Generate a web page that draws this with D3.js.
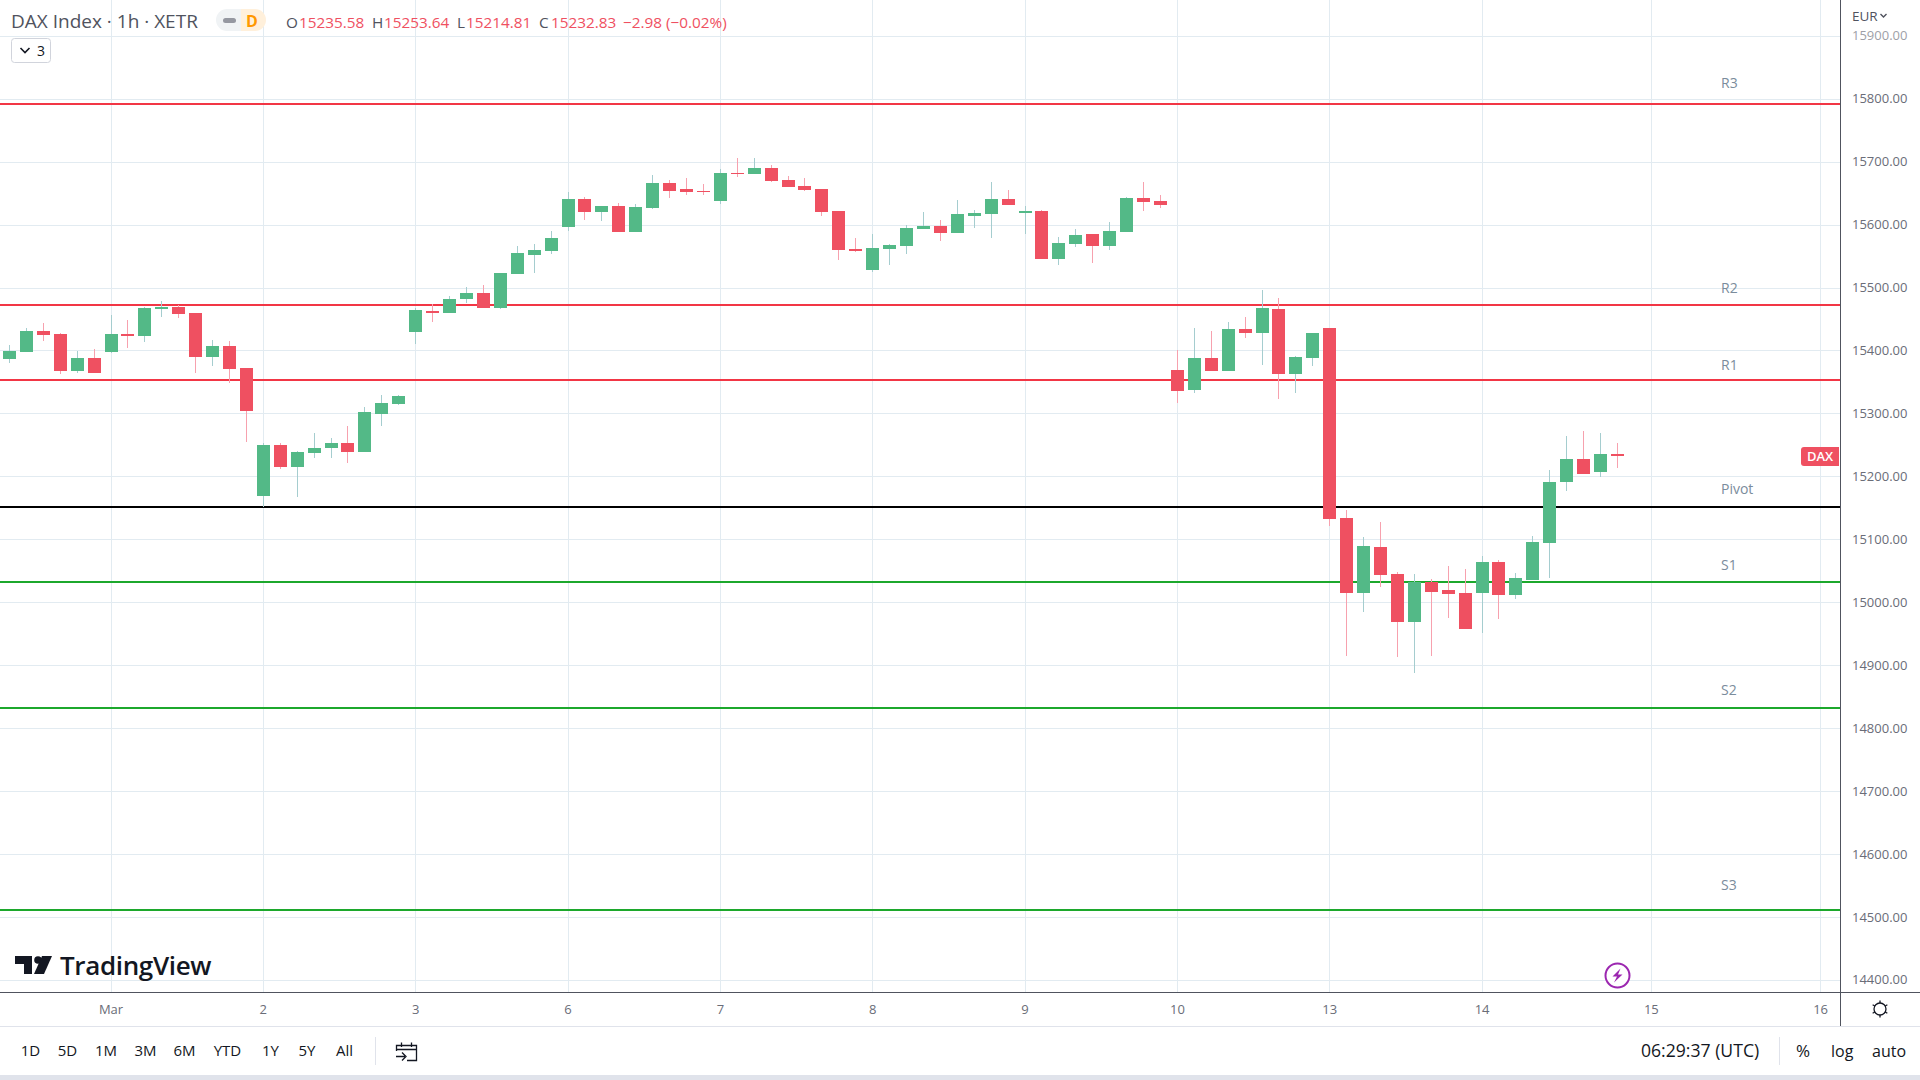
<!DOCTYPE html>
<html>
<head>
<meta charset="utf-8">
<title>DAX Index 1h</title>
<script src="https://cdn.jsdelivr.net/npm/d3@7"></script>
<style>
  html, body { margin: 0; padding: 0; background: #fff; overflow: hidden; }
  svg { display: block; }
  text { font-family: "Open Sans", sans-serif; }
</style>
</head>
<body>
<div class="chart"></div>
<script>
// hourly candles, first bar is 6 bars before the "Mar" tick
var barIndex = d3.range(-6, 90);

var opens = [
  15387, 15398, 15432, 15427, 15368, 15389, 15398, 15427, 15424, 15467,
  15470, 15460, 15390, 15408, 15373, 15170, 15251, 15216, 15238, 15246,
  15254, 15240, 15300, 15316, 15430, 15464, 15460, 15483, 15492, 15468,
  15522, 15552, 15559, 15597, 15641, 15621, 15630, 15589, 15627, 15667,
  15657, 15654, 15638, 15683, 15681, 15691, 15671, 15662, 15657, 15622,
  15562, 15529, 15562, 15567, 15594, 15598, 15587, 15614, 15618, 15641,
  15619, 15622, 15546, 15570, 15586, 15567, 15589, 15643, 15638, 15370,
  15338, 15389, 15368, 15435, 15429, 15467, 15363, 15389, 15436, 15135,
  15015, 15088, 15046, 14969, 15033, 15020, 15015, 15015, 15065, 15012,
  15036, 15095, 15192, 15228, 15208, 15235.58
];
var highs = [
  15410, 15437, 15445, 15429, 15400, 15403, 15457, 15449, 15470, 15479,
  15473, 15460, 15418, 15416, 15373, 15254, 15254, 15241, 15270, 15262,
  15281, 15311, 15330, 15330, 15468, 15475, 15487, 15502, 15505, 15524,
  15567, 15570, 15591, 15653, 15645, 15630, 15635, 15634, 15680, 15672,
  15675, 15665, 15689, 15707, 15707, 15695, 15678, 15675, 15657, 15622,
  15580, 15586, 15570, 15600, 15621, 15608, 15640, 15624, 15669, 15656,
  15630, 15624, 15581, 15594, 15586, 15605, 15645, 15669, 15648, 15402,
  15436, 15432, 15446, 15454, 15497, 15484, 15392, 15429, 15436, 15147,
  15104, 15128, 15049, 15046, 15038, 15058, 15054, 15074, 15068, 15047,
  15106, 15211, 15265, 15273, 15270, 15253.64
];
var lows = [
  15381, 15398, 15416, 15363, 15365, 15365, 15397, 15405, 15414, 15454,
  15452, 15365, 15376, 15349, 15255, 15152, 15212, 15168, 15230, 15230,
  15222, 15240, 15281, 15314, 15411, 15446, 15460, 15476, 15468, 15467,
  15522, 15524, 15554, 15591, 15608, 15607, 15589, 15589, 15626, 15643,
  15648, 15648, 15634, 15676, 15681, 15668, 15660, 15654, 15614, 15544,
  15557, 15525, 15537, 15554, 15594, 15575, 15587, 15595, 15580, 15632,
  15586, 15546, 15537, 15565, 15540, 15560, 15589, 15622, 15627, 15317,
  15333, 15368, 15368, 15421, 15378, 15324, 15333, 15376, 15122, 14915,
  14985, 15025, 14914, 14888, 14915, 14976, 14958, 14952, 14974, 15006,
  15036, 15039, 15178, 15205, 15200, 15214.81
];
var closes = [
  15400, 15432, 15425, 15368, 15389, 15365, 15427, 15424, 15468, 15470,
  15459, 15390, 15408, 15371, 15305, 15251, 15216, 15240, 15246, 15254,
  15240, 15303, 15317, 15328, 15465, 15460, 15483, 15492, 15468, 15524,
  15556, 15560, 15580, 15641, 15621, 15630, 15589, 15629, 15667, 15654,
  15653, 15653, 15683, 15681, 15691, 15670, 15660, 15656, 15621, 15560,
  15559, 15564, 15568, 15595, 15598, 15587, 15618, 15619, 15641, 15632,
  15622, 15546, 15572, 15584, 15567, 15591, 15643, 15637, 15632, 15336,
  15389, 15368, 15435, 15429, 15468, 15363, 15390, 15429, 15133, 15015,
  15090, 15044, 14969, 15033, 15017, 15014, 14958, 15065, 15012, 15039,
  15096, 15192, 15228, 15205, 15236, 15232.83
];

var priceTicks = d3.range(14400, 16000, 100);
var dayTickBars = [0, 9, 18, 27, 36, 45, 54, 63, 72, 81, 91, 101];
var dayLabels = ["Mar", "2", "3", "6", "7", "8", "9", "10", "13", "14", "15", "16"];

// pivot levels drawn by hand on the chart
var levelNames = ["R3", "R2", "R1", "Pivot", "S1", "S2", "S3"];
var levelPrices = [15792, 15473, 15354, 15152, 15033, 14833, 14512];
var levelColors = ["#f23645", "#f23645", "#f23645", "#000000", "#1ca82c", "#1ca82c", "#1ca82c"];
var levelLabelOffsets = [21, 17, 15, 18, 17, 18, 25];

var rangeLabels = ["1D", "5D", "1M", "3M", "6M", "YTD", "1Y", "5Y", "All"];
var rangeCenters = [30.5, 67.5, 106, 145.5, 184.5, 227.5, 270.5, 307, 344.5];

var width = 1920, height = 1080;
var axisX = 1840, axisY = 992;

var xScale = d3.scaleLinear().domain([0, 101]).range([111, 1820.6]);
var yScale = d3.scaleLinear().domain([14400, 15900]).range([980.3, 36.3]);

var svg = d3.select(".chart").append("svg")
  .attr("width", width)
  .attr("height", height);

var GRID = "#e2ebf1", RED = "#ef5061", GREEN = "#53b987";

// grid, snapped to whole pixels
var grid = svg.append("g").attr("stroke", GRID).attr("shape-rendering", "crispEdges");
grid.selectAll(".h")
  .data(priceTicks)
  .enter().append("line")
  .attr("class", "h")
  .attr("x1", 0)
  .attr("x2", axisX)
  .attr("y1", function (d) { return Math.floor(yScale(d)) + 0.5; })
  .attr("y2", function (d) { return Math.floor(yScale(d)) + 0.5; });
grid.selectAll(".v")
  .data(dayTickBars)
  .enter().append("line")
  .attr("class", "v")
  .attr("y1", 0)
  .attr("y2", axisY)
  .attr("x1", function (d) { return Math.floor(xScale(d)) + 0.5; })
  .attr("x2", function (d) { return Math.floor(xScale(d)) + 0.5; });

// level lines
svg.append("g").selectAll("line")
  .data(levelPrices)
  .enter().append("line")
  .attr("x1", 0)
  .attr("x2", axisX)
  .attr("y1", function (d) { return yScale(d); })
  .attr("y2", function (d) { return yScale(d); })
  .attr("stroke", function (d, i) { return levelColors[i]; })
  .attr("stroke-width", 2)
  .attr("shape-rendering", "crispEdges");

svg.append("g").selectAll("text")
  .data(levelNames)
  .enter().append("text")
  .attr("x", 1721)
  .attr("y", function (d, i) { return yScale(levelPrices[i]) - levelLabelOffsets[i] + 5; })
  .attr("font-size", 14)
  .attr("fill", "#7b8c9c")
  .text(function (d) { return d; });

// candles
var candles = svg.append("g").attr("shape-rendering", "crispEdges");
var isUp = function (i) { return closes[i] >= opens[i]; };

candles.selectAll(".wick")
  .data(barIndex)
  .enter().append("rect")
  .attr("class", "wick")
  .attr("x", function (d) { return Math.floor(xScale(d)); })
  .attr("width", 1)
  .attr("y", function (d, i) { return Math.round(yScale(highs[i])); })
  .attr("height", function (d, i) { return Math.round(yScale(lows[i])) - Math.round(yScale(highs[i])); })
  .attr("fill", function (d, i) { return isUp(i) ? "#a5cdcf" : "#f7a1ae"; });

candles.selectAll(".body")
  .data(barIndex)
  .enter().append("rect")
  .attr("class", "body")
  .attr("x", function (d) { return Math.floor(xScale(d)) - 6; })
  .attr("width", 13)
  .attr("y", function (d, i) { return Math.round(yScale(Math.max(opens[i], closes[i]))); })
  .attr("height", function (d, i) {
    return Math.max(1, Math.round(yScale(Math.min(opens[i], closes[i]))) - Math.round(yScale(Math.max(opens[i], closes[i]))));
  })
  .attr("fill", function (d, i) { return isUp(i) ? GREEN : RED; });

// price axis
var priceAxis = svg.append("g")
  .attr("transform", "translate(" + axisX + ",0)")
  .call(d3.axisRight(yScale).offset(0).tickValues(priceTicks).tickSize(0).tickPadding(12)
    .tickFormat(function (d) { return d.toFixed(2); }));
priceAxis.select(".domain").remove();
priceAxis.selectAll("text")
  .attr("font-family", "'Open Sans', sans-serif")
  .attr("font-size", 13)
  .attr("fill", "#6a6d78")
  .attr("opacity", function (d) { return d === 15900 ? 0.65 : 1; });

// time axis
var timeAxis = svg.append("g")
  .attr("transform", "translate(0," + axisY + ")")
  .call(d3.axisBottom(xScale).offset(0).tickValues(dayTickBars).tickSize(0).tickPadding(13)
    .tickFormat(function (d, i) { return dayLabels[i]; }));
timeAxis.select(".domain").remove();
timeAxis.selectAll("text")
  .attr("font-family", "'Open Sans', sans-serif")
  .attr("font-size", 13)
  .attr("fill", "#6a6d78");

// frame of the panes
var frame = svg.append("g").attr("shape-rendering", "crispEdges");
frame.append("rect").attr("x", 1840).attr("y", 0).attr("width", 1).attr("height", 1026).attr("fill", "#50535e");
frame.append("rect").attr("x", 0).attr("y", 992).attr("width", 1920).attr("height", 1).attr("fill", "#50535e");
frame.append("rect").attr("x", 0).attr("y", 1026).attr("width", 1920).attr("height", 1).attr("fill", "#e0e3eb");
frame.append("rect").attr("x", 0).attr("y", 1075).attr("width", 1920).attr("height", 5).attr("fill", "#e0e3eb");
frame.append("rect").attr("x", 375).attr("y", 1037).attr("width", 1).attr("height", 28).attr("fill", "#e0e3eb");
frame.append("rect").attr("x", 1779).attr("y", 1037).attr("width", 1).attr("height", 28).attr("fill", "#e0e3eb");

// last price tag
svg.append("path")
  .attr("d", "M1804 447H1839V466H1804Q1801 466 1801 463V450Q1801 447 1804 447Z")
  .attr("fill", RED);
svg.append("text")
  .attr("x", 1820).attr("y", 461)
  .attr("text-anchor", "middle")
  .attr("font-size", 13)
  .attr("font-weight", 600)
  .attr("fill", "#fff")
  .text("DAX");

// legend
svg.append("text")
  .attr("x", 11).attr("y", 28)
  .attr("font-size", 19)
  .attr("fill", "#50535e")
  .text("DAX Index \u00b7 1h \u00b7 XETR");

svg.append("path")
  .attr("d", "M241 9H227A11 11 0 0 0 227 31H241Z")
  .attr("fill", "#f0f3f5");
svg.append("path")
  .attr("d", "M241 9H255A11 11 0 0 1 255 31H241Z")
  .attr("fill", "#fff0db");
svg.append("rect")
  .attr("x", 223).attr("y", 18).attr("width", 13).attr("height", 5).attr("rx", 2.5)
  .attr("fill", "#9598a1");
svg.append("text")
  .attr("x", 252).attr("y", 26.5)
  .attr("text-anchor", "middle")
  .attr("font-size", 16)
  .attr("font-weight", 700)
  .attr("fill", "#ff9800")
  .text("D");

var ohlcTexts = ["O", "15235.58", "H", "15253.64", "L", "15214.81", "C", "15232.83", "\u22122.98 (\u22120.02%)"];
var ohlcLefts = [286, 299, 372, 384, 457, 466, 539, 551, 623];
svg.append("g").selectAll("text")
  .data(ohlcTexts)
  .enter().append("text")
  .attr("x", function (d, i) { return ohlcLefts[i]; })
  .attr("y", 27.5)
  .attr("font-size", 15.3)
  .attr("fill", function (d) { return d.length > 1 ? RED : "#50535e"; })
  .text(function (d) { return d; });

// collapse button
svg.append("rect")
  .attr("x", 11.5).attr("y", 38.5).attr("width", 39).attr("height", 24).attr("rx", 3)
  .attr("fill", "#fff").attr("stroke", "#d1d4dc");
svg.append("path")
  .attr("d", "M20.5 48L25 52.5L29.5 48")
  .attr("fill", "none").attr("stroke", "#131722").attr("stroke-width", 1.6);
svg.append("text")
  .attr("x", 37).attr("y", 55.5)
  .attr("font-size", 14)
  .attr("fill", "#131722")
  .text("3");

// EUR
svg.append("text")
  .attr("x", 1852).attr("y", 21)
  .attr("font-size", 13.5)
  .attr("fill", "#50535e")
  .text("EUR");
svg.append("path")
  .attr("d", "M1880.5 14L1883.5 17L1886.5 14")
  .attr("fill", "none").attr("stroke", "#50535e").attr("stroke-width", 1.4);

// logo
var logo = svg.append("g").attr("fill", "#131722");
logo.append("path").attr("d", "M15 956H32V974H24V964H15Z");
logo.append("circle").attr("cx", 38).attr("cy", 960).attr("r", 3.8);
logo.append("path").attr("d", "M42 956H52L44 974H34Z");
svg.append("text")
  .attr("x", 60).attr("y", 975)
  .attr("font-size", 26)
  .attr("font-weight", 600)
  .attr("letter-spacing", -0.35)
  .attr("fill", "#131722")
  .text("TradingView");

// range buttons
svg.append("g").selectAll("text")
  .data(rangeLabels)
  .enter().append("text")
  .attr("x", function (d, i) { return rangeCenters[i]; })
  .attr("y", 1056)
  .attr("text-anchor", "middle")
  .attr("font-size", 15)
  .attr("fill", "#131722")
  .text(function (d) { return d; });

// calendar icon
svg.append("path")
  .attr("d", "M396.5 1051V1045.5H416.5V1060.5H407M396.5 1049.5H416.5M401.5 1042.5V1047M411.5 1042.5V1047M396 1056.5H405M402 1052.5L406 1056.5L402 1060.5")
  .attr("fill", "none").attr("stroke", "#131722").attr("stroke-width", 1.3);

// clock and scale buttons
svg.append("text")
  .attr("x", 1641).attr("y", 1057)
  .attr("font-size", 17.6)
  .attr("fill", "#131722")
  .text("06:29:37 (UTC)");
svg.append("text").attr("x", 1796).attr("y", 1057).attr("font-size", 17).attr("fill", "#131722").text("%");
svg.append("text").attr("x", 1831).attr("y", 1057).attr("font-size", 16).attr("fill", "#131722").text("log");
svg.append("text").attr("x", 1872).attr("y", 1057).attr("font-size", 16).attr("fill", "#131722").text("auto");

// settings gear
var gear = svg.append("g").attr("fill", "none").attr("stroke", "#131722").attr("stroke-width", 1.3);
gear.append("circle").attr("cx", 1880).attr("cy", 1009).attr("r", 6);
gear.selectAll("line")
  .data(d3.range(0, 360, 60))
  .enter().append("line")
  .attr("x1", function (d) { return 1880 + 6 * Math.sin(d * Math.PI / 180); })
  .attr("y1", function (d) { return 1009 - 6 * Math.cos(d * Math.PI / 180); })
  .attr("x2", function (d) { return 1880 + 8.5 * Math.sin(d * Math.PI / 180); })
  .attr("y2", function (d) { return 1009 - 8.5 * Math.cos(d * Math.PI / 180); });

// lightning badge
svg.append("circle")
  .attr("cx", 1617.5).attr("cy", 975.5).attr("r", 12)
  .attr("fill", "#fff").attr("stroke", "#9c27b0").attr("stroke-width", 2);
svg.append("path")
  .attr("d", "M1620.5 968.5L1612.5 976.5H1617L1614 982.5L1622.5 974.5H1618Z")
  .attr("fill", "#9c27b0");
</script>
</body>
</html>
